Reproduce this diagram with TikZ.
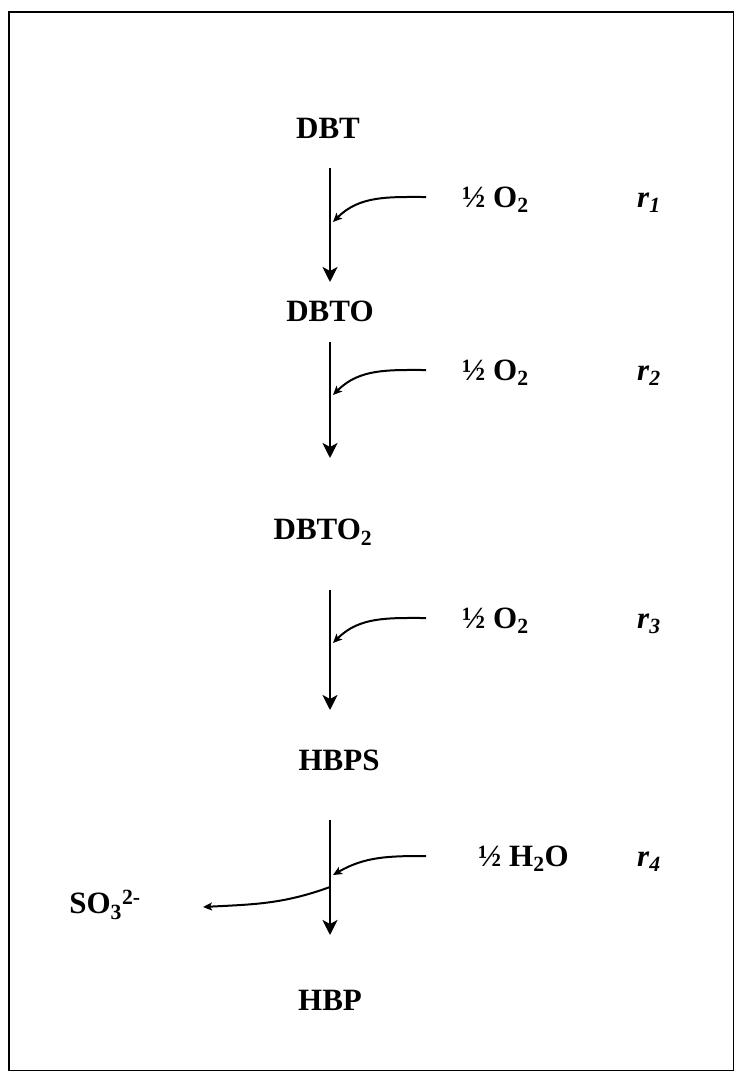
\documentclass[tikz,border=0pt]{standalone}
\usepackage{fontspec}
\setmainfont{Liberation Serif}
\usetikzlibrary{arrows.meta}
% one reaction step: vertical arrow, co-reactant arrow, labels
\newcommand{\rxnstep}[8]{%
  \coordinate (top#1) at (330,#2);
  \coordinate (tip#1) at (330,#3);
  \coordinate (in#1) at (426,#4);
  \coordinate (hit#1) at (333,#5);
  \node[chem, anchor=base west, yshift=-10pt] (add#1) at (#6,#4) {#7};
  \node[rate, anchor=base west, yshift=-10pt] (r#1) at (637,#4)
       {r\textsubscript{#1}};
  \draw[main] (top#1) -- (tip#1);
  \draw[side] (in#1) to[out=180, in=#8] (hit#1);
}

\begin{document}
\begin{tikzpicture}[x=1pt, y=-1pt,
    chem/.style={font=\fontsize{31}{36}\selectfont\bfseries, inner sep=0pt},
    rate/.style={font=\fontsize{31}{36}\selectfont\bfseries\itshape,
                 inner sep=0pt},
    main/.style={line width=2.8pt,
                 -{Stealth[length=15pt, width=15pt, inset=4pt]}},
    side/.style={line width=2pt,
                 -{Stealth[length=9pt, width=8pt, inset=2pt]}}]
  \useasboundingbox (0,0) rectangle (735,1072);
  \draw[line width=1.6pt] (9,12) rectangle (733.5,1070.5);
  % species
  \node[chem] (dbt) at (328,128) {DBT};
  \node[chem] (dbto) at (330,311) {DBTO};
  \node[chem] (dbto2) at (323,532) {DBTO\textsubscript{2}};
  \node[chem] (hbps) at (339,760) {HBPS};
  \node[chem] (hbp) at (330,1000) {HBP};
  % steps
  \rxnstep{1}{168}{282}{197}{222}{462}{½ O\textsubscript{2}}{45}
  \rxnstep{2}{342}{458}{370}{395}{462}{½ O\textsubscript{2}}{45}
  \rxnstep{3}{590}{710}{618}{643}{462}{½ O\textsubscript{2}}{45}
  \rxnstep{4}{820}{935}{856}{875}{478}{½ H\textsubscript{2}O}{30}
  % sulfite leaves at step 4
  \node[chem] (so3) at (105,905) {SO\textsubscript{3}\textsuperscript{2-}};
  \coordinate (off) at (330,887);
  \coordinate (drop) at (203,907);
  \draw[side] (off) to[out=200, in=3] (drop);
\end{tikzpicture}
\end{document}
